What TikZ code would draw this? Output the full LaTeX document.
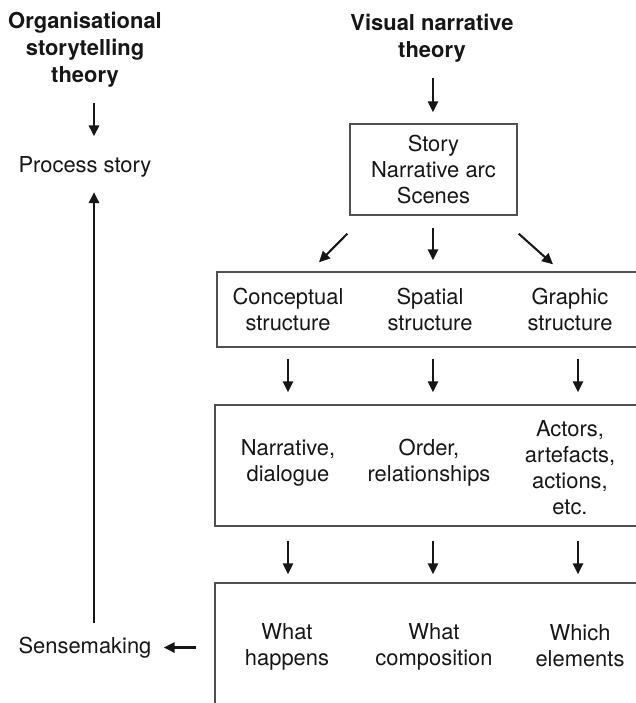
\documentclass[tikz,border=0pt]{standalone}
\usepackage{fontspec}
\setmainfont{TeX Gyre Heros}
\usetikzlibrary{positioning,arrows.meta,calc}
\definecolor{boxline}{HTML}{505050}
\definecolor{inkdark}{HTML}{161616}
\newcommand{\unitpx}{0.73pt}
\tikzset{
  >={Triangle[length=8pt, width=7.5pt]},
  every node/.style={font=\fontsize{16}{19}\selectfont, text=inkdark, inner sep=0pt},
  ttl/.style={font=\fontsize{16}{19.7}\selectfont\bfseries, align=center},
  txt/.style={align=center},
  storybox/.style={draw=boxline, line width=1pt, align=center, minimum width=167*\unitpx, minimum height=91*\unitpx},
  rowbox/.style={draw=boxline, line width=1pt, minimum width=422*\unitpx},
  flow/.style={->, line width=1.5pt, draw=inkdark},
}

\begin{document}
\begin{tikzpicture}[x=\unitpx, y=-\unitpx]
  \useasboundingbox (0,0) rectangle (635,703);

  % left column
  \node[ttl] (otitle) at (85,50) {Organisational\\storytelling\\theory};
  \node (pstory) at (85,167) {Process story};
  \node (sense) at (85,647.5) {Sensemaking};
  \coordinate (k0) at (94,0);

  % right column
  \node[ttl] (vtitle) at (432,38) {Visual narrative\\theory};
  \node[storybox] (story) at (433.5,169.5) {Story\\Narrative arc\\Scenes};

  \node[rowbox, minimum height=75*\unitpx] (row1) at (428,309.5) {};
  \node[txt] (c1) at (288,309) {Conceptual\\structure};
  \node[txt] (s1) at (430,309) {Spatial\\structure};
  \node[txt] (g1) at (570,309) {Graphic\\structure};

  \node[rowbox, minimum height=121*\unitpx] (row2) at (426,465.5) {};
  \node[txt] (c2) at (288,463) {Narrative,\\dialogue};
  \node[txt] (s2) at (429,463) {Order,\\relationships};
  \node[txt] (g2) at (570,468) {Actors,\\artefacts,\\actions,\\etc.};

  \node[rowbox, minimum height=126*\unitpx] (row3) at (426,646) {};
  \node[txt] (c3) at (287,647) {What\\happens};
  \node[txt] (s3) at (434,647) {What\\composition};
  \node[txt] (g3) at (580,646) {Which\\elements};

  \coordinate (k1) at (288,0);
  \coordinate (k2) at (433,0);
  \coordinate (k3) at (578,0);

  % arrows
  \draw[flow, shorten <=15*\unitpx, shorten >=20*\unitpx] (otitle.south -| k0) -- (pstory.north -| k0);
  \draw[flow, shorten <=14*\unitpx, shorten >=14.5*\unitpx] (sense.north -| k0) -- (pstory.south -| k0);
  \draw[flow, shorten <=18*\unitpx, shorten >=12*\unitpx] (row3.west |- sense) -- (sense.east);

  \draw[flow, shorten <=16*\unitpx, shorten >=11*\unitpx] (vtitle.south -| k2) -- (story.north -| k2);
  \draw[flow] ($(story.south west)+(-2,18)$) -- ($(row1.north -| c1)+(31,-9)$);
  \draw[flow, shorten <=12*\unitpx, shorten >=11*\unitpx] (story.south -| k2) -- (row1.north -| k2);
  \draw[flow] ($(story.south east)+(1,18)$) -- ($(row1.north -| g1)+(-17,-7)$);

  \draw[flow, shorten <=11*\unitpx, shorten >=12*\unitpx] (row1.south -| k1) -- (row2.north -| k1);
  \draw[flow, shorten <=11*\unitpx, shorten >=12*\unitpx] (row1.south -| k2) -- (row2.north -| k2);
  \draw[flow, shorten <=11*\unitpx, shorten >=12*\unitpx] (row1.south -| k3) -- (row2.north -| k3);

  \draw[flow, shorten <=14*\unitpx, shorten >=8*\unitpx] (row2.south -| k1) -- (row3.north -| k1);
  \draw[flow, shorten <=14*\unitpx, shorten >=8*\unitpx] (row2.south -| k2) -- (row3.north -| k2);
  \draw[flow, shorten <=14*\unitpx, shorten >=8*\unitpx] (row2.south -| k3) -- (row3.north -| k3);
\end{tikzpicture}
\end{document}
